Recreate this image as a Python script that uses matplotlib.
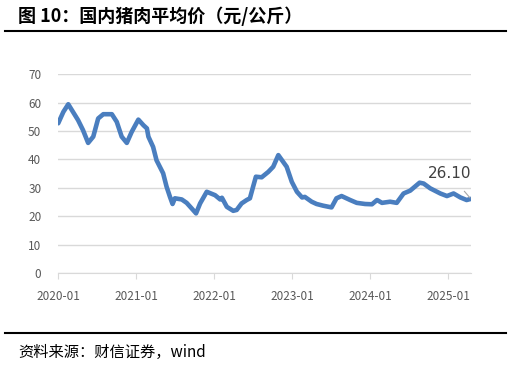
import matplotlib.pyplot as plt
import matplotlib.dates as mdates
import pandas as pd

plt.rcParams['font.family'] = ['Noto Sans CJK SC', 'DejaVu Sans']

# 国内猪肉平均价（元/公斤），读图估计
dates = ['2020-01-02', '2020-01-26', '2020-02-18', '2020-04-04', '2020-04-27', '2020-05-21',
         '2020-06-14', '2020-07-07', '2020-07-31', '2020-09-09', '2020-10-02', '2020-10-25',
         '2020-11-18', '2020-12-11', '2021-01-11', '2021-02-04', '2021-02-20', '2021-02-27',
         '2021-03-21', '2021-04-06', '2021-05-07', '2021-05-23', '2021-06-08', '2021-06-20',
         '2021-07-01', '2021-08-02', '2021-08-25', '2021-09-18', '2021-10-08', '2021-10-27',
         '2021-11-27', '2022-01-05', '2022-01-29', '2022-02-06', '2022-03-01', '2022-03-31',
         '2022-04-16', '2022-05-09', '2022-06-02', '2022-06-17', '2022-07-02', '2022-07-15',
         '2022-08-11', '2022-09-11', '2022-10-04', '2022-10-28', '2022-12-06', '2022-12-30',
         '2023-01-23', '2023-02-16', '2023-03-01', '2023-04-02', '2023-04-25', '2023-05-26',
         '2023-07-04', '2023-07-27', '2023-08-20', '2023-09-29', '2023-10-30', '2023-12-08',
         '2024-01-09', '2024-02-02', '2024-02-25', '2024-04-03', '2024-05-04', '2024-06-05',
         '2024-07-06', '2024-08-19', '2024-09-07', '2024-10-08', '2024-11-24', '2024-12-25',
         '2025-01-25', '2025-02-26', '2025-03-27', '2025-04-16']
prices = [52.7, 56.7, 59.4, 53.8, 50.3, 45.8,
          48.0, 54.4, 55.9, 55.9, 53.2, 48.0,
          45.8, 49.7, 54.0, 52.0, 50.9, 48.0,
          44.4, 39.7, 35.1, 30.4, 26.8, 24.3,
          26.3, 25.9, 24.7, 22.7, 21.0, 24.5,
          28.6, 27.4, 25.9, 26.5, 23.3, 21.9,
          22.2, 24.5, 25.7, 26.3, 30.4, 33.9,
          33.7, 35.6, 37.4, 41.5, 37.4, 32.1,
          28.6, 26.6, 26.8, 25.1, 24.3, 23.7,
          23.1, 26.3, 27.1, 25.7, 24.7, 24.3,
          24.2, 25.7, 24.7, 25.1, 24.7, 28.0,
          29.0, 31.8, 31.5, 29.8, 28.0, 27.1,
          28.0, 26.6, 25.7, 26.1]
yticks = [0, 10, 20, 30, 40, 50, 60, 70]
xticks = ['2020-01', '2021-01', '2022-01', '2023-01', '2024-01', '2025-01']

x = pd.to_datetime(dates)

fig = plt.figure(figsize=(5.11, 3.67), dpi=100)
ax = fig.add_axes([0.1135, 0.256, 0.808, 0.542])

ax.plot(x, prices, color='#4A7EBF', lw=3.3, solid_capstyle='round', solid_joinstyle='round')

ax.set_ylim(0, 70)
ax.set_yticks(yticks)
ax.set_xlim(pd.Timestamp('2020-01-01'), x[-1])
ax.set_xticks(pd.to_datetime(xticks))
ax.xaxis.set_major_formatter(mdates.DateFormatter('%Y-%m'))
ax.grid(axis='y', color='#D9D9D9', lw=1)
ax.set_axisbelow(True)
for s in ['top', 'right', 'left']:
    ax.spines[s].set_visible(False)
ax.spines['bottom'].set_color('#D9D9D9')
ax.tick_params(axis='y', length=0, pad=12, labelsize=8.5, labelcolor='#595959')
ax.tick_params(axis='x', length=4, color='#D9D9D9', pad=8, labelsize=8.5, labelcolor='#595959')

# 最新值标注
ax.annotate('26.10', xy=(x[-1], prices[-1]), xytext=(x[-1], 35),
            ha='right', va='center', fontsize=11, color='#404040', family='DejaVu Sans',
            arrowprops=dict(arrowstyle='-', color='#A6A6A6', lw=0.8, shrinkA=7, shrinkB=1))

fig.text(0.035, 0.955, '图 10：国内猪肉平均价（元/公斤）', fontsize=13, fontweight='bold',
         va='center', ha='left')
fig.add_artist(plt.Line2D([0.01, 0.99], [0.915, 0.915], color='black', lw=1.5))
fig.add_artist(plt.Line2D([0.01, 0.99], [0.093, 0.093], color='black', lw=1.5))
fig.text(0.035, 0.04, '资料来源：财信证券，wind', fontsize=11, style='italic', va='center', ha='left')

fig.savefig('out.png', dpi=100)
